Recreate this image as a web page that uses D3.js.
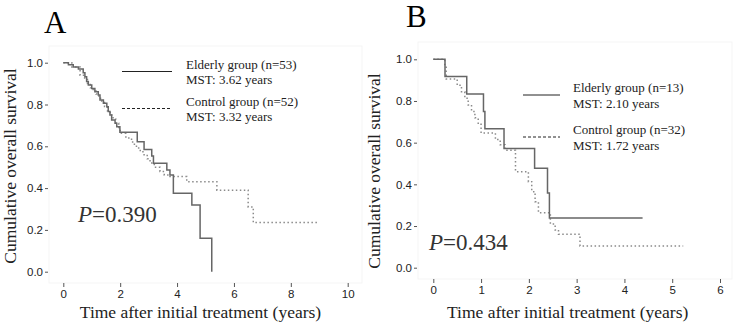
<html>
<head>
    <meta charset="UTF-8">
    <title>Kaplan-Meier overall survival</title>
    <script src="https://cdn.jsdelivr.net/npm/d3@7/dist/d3.min.js"></script>
    <style>
        body { margin: 0; background: #fff; }
        .serif { font-family: "Liberation Serif", "Times New Roman", serif; }
        .tick text { font-family: "Liberation Sans", Arial, sans-serif; font-size: 11.5px; fill: #222; }
        .tick line { stroke: #555; }
    </style>
</head>
<body>
    <svg id="mySvg" width="735" height="326"></svg>
    <script>
        // panel A data
        var aElderlyT = [0, 0.18, 0.35, 0.53, 0.70, 0.76, 0.82, 0.88, 1.00, 1.11, 1.23, 1.29, 1.41, 1.53, 1.58, 1.64, 1.70, 1.82, 1.88, 1.99, 2.60, 2.84, 3.11, 3.17, 3.64, 3.75, 3.87, 4.52, 4.81, 5.22];
        var aElderlyS = [1.0, 0.99, 0.98, 0.97, 0.952, 0.933, 0.91, 0.893, 0.877, 0.861, 0.845, 0.821, 0.806, 0.789, 0.766, 0.75, 0.726, 0.71, 0.694, 0.667, 0.622, 0.585, 0.553, 0.519, 0.487, 0.463, 0.375, 0.319, 0.16, 0.0];
        var aControlT = [0, 0.30, 0.59, 0.75, 0.85, 0.95, 1.05, 1.15, 1.25, 1.35, 1.45, 1.55, 1.65, 1.75, 1.85, 1.95, 2.0, 2.2, 2.4, 2.5, 2.65, 2.8, 2.95, 3.05, 3.2, 3.4, 3.55, 3.75, 4.34, 5.40, 6.50, 6.68, 9.0];
        var aControlS = [1.0, 0.98, 0.94, 0.92, 0.90, 0.88, 0.865, 0.85, 0.83, 0.81, 0.79, 0.77, 0.75, 0.73, 0.71, 0.69, 0.662, 0.64, 0.62, 0.60, 0.58, 0.56, 0.54, 0.52, 0.50, 0.48, 0.463, 0.455, 0.43, 0.39, 0.31, 0.235, 0.235];

        // panel B data
        var bElderlyT = [0, 0.245, 0.70, 1.05, 1.08, 1.48, 2.12, 2.39, 2.43, 4.38];
        var bElderlyS = [1.0, 0.917, 0.833, 0.75, 0.667, 0.572, 0.477, 0.358, 0.239, 0.239];
        var bControlT = [0, 0.24, 0.27, 0.50, 0.59, 0.66, 0.73, 0.80, 0.87, 0.94, 1.00, 1.30, 1.40, 1.50, 1.72, 1.99, 2.06, 2.13, 2.20, 2.45, 2.55, 2.62, 3.07, 5.23];
        var bControlS = [1.0, 0.969, 0.906, 0.875, 0.844, 0.813, 0.781, 0.75, 0.719, 0.688, 0.646, 0.615, 0.59, 0.563, 0.461, 0.413, 0.365, 0.317, 0.264, 0.21, 0.181, 0.16, 0.104, 0.104];

        var yTicks = [0, 0.2, 0.4, 0.6, 0.8, 1.0];
        var aXTicks = [0, 2, 4, 6, 8, 10];
        var bXTicks = [0, 1, 2, 3, 4, 5, 6];
        var aLegend = ["Elderly group (n=53)", "MST: 3.62 years", "Control group (n=52)", "MST: 3.32 years"];
        var bLegend = ["Elderly group (n=13)", "MST: 2.10 years", "Control group (n=32)", "MST: 1.72 years"];

        var svg = d3.select("#mySvg");

        function toPoints(t, s) {
            return t.map(function (d, i) { return [d, s[i]]; });
        }

        function drawPanel(p) {
            var x = d3.scaleLinear().domain([0, p.xMax]).range([p.x0, p.x1]);
            var y = d3.scaleLinear().domain([0, 1]).range([p.y0, p.y1]);
            var g = svg.append("g");

            // faint frame of the plot area
            g.append("rect")
                .attr("x", p.fx).attr("y", p.fy)
                .attr("width", p.fw).attr("height", p.fh)
                .attr("fill", "none").attr("stroke", "#f5f5f5");

            var yAxis = g.append("g")
                .attr("transform", `translate(${p.ax}, 0)`)
                .call(d3.axisLeft(y).tickValues(yTicks).tickFormat(d3.format(".1f")).tickSize(3).tickPadding(2));
            yAxis.select(".domain").remove();

            var xAxis = g.append("g")
                .attr("transform", `translate(0, ${p.ay})`)
                .call(d3.axisBottom(x).tickValues(p.xTicks).tickFormat(d3.format("d")).tickSize(4).tickPadding(3));
            xAxis.select(".domain").remove();

            var line = d3.line()
                .x(function (d) { return x(d[0]); })
                .y(function (d) { return y(d[1]); })
                .curve(d3.curveStepAfter);

            g.append("path")
                .attr("d", line(toPoints(p.ctlT, p.ctlS)))
                .attr("fill", "none")
                .attr("stroke", "#8a8a8a")
                .attr("stroke-width", 1.5)
                .attr("stroke-dasharray", "1.5,2.5");
            g.append("path")
                .attr("d", line(toPoints(p.eldT, p.eldS)))
                .attr("fill", "none")
                .attr("stroke", "#666")
                .attr("stroke-width", 1.5);

            // legend
            g.append("line")
                .attr("x1", p.lx).attr("x2", p.lx + p.lw)
                .attr("y1", p.ly).attr("y2", p.ly)
                .attr("stroke", "#222").attr("stroke-width", 1);
            g.append("line")
                .attr("x1", p.lx).attr("x2", p.lx + p.lw)
                .attr("y1", p.ly + p.lgap).attr("y2", p.ly + p.lgap)
                .attr("stroke", "#222").attr("stroke-width", 1)
                .attr("stroke-dasharray", "3,2");
            p.legend.forEach(function (txt, i) {
                var base = p.ly - 3 + (i >= 2 ? p.lgap : 0) + (i % 2) * 15.5;
                g.append("text")
                    .attr("class", "serif")
                    .attr("x", p.tx).attr("y", base)
                    .attr("font-size", 13)
                    .attr("fill", "#222")
                    .text(txt);
            });

            // panel letter
            g.append("text")
                .attr("class", "serif")
                .attr("x", p.letterX).attr("y", p.letterY)
                .attr("font-size", 31)
                .text(p.letter);

            // axis titles
            g.append("text")
                .attr("class", "serif")
                .attr("x", (p.x0 + p.x1) / 2 + p.titleDx).attr("y", 318)
                .attr("text-anchor", "middle")
                .attr("font-size", 17.5)
                .attr("fill", "#222")
                .text("Time after initial treatment (years)");
            g.append("text")
                .attr("class", "serif")
                .attr("transform", `translate(${p.yTitleX}, ${p.yTitleY}) rotate(-90)`)
                .attr("text-anchor", "middle")
                .attr("font-size", 17.5)
                .attr("fill", "#222")
                .text("Cumulative overall survival");

            // p value
            var pt = g.append("text")
                .attr("class", "serif")
                .attr("x", p.px).attr("y", p.py)
                .attr("font-size", 23)
                .attr("fill", "#333");
            pt.append("tspan").attr("font-style", "italic").text("P");
            pt.append("tspan").text(p.pval);
        }

        drawPanel({
            xMax: 10, x0: 63.3, x1: 347.7, y0: 271.7, y1: 62.7,
            ax: 48, ay: 283, xTicks: aXTicks,
            fx: 49, fy: 46, fw: 313, fh: 237,
            eldT: aElderlyT, eldS: aElderlyS, ctlT: aControlT, ctlS: aControlS,
            legend: aLegend, lx: 122, lw: 50, ly: 71.5, lgap: 37, tx: 186,
            letter: "A", letterX: 44, letterY: 33,
            titleDx: -5, yTitleX: 16, yTitleY: 166,
            px: 78, py: 222, pval: "=0.390"
        });

        drawPanel({
            xMax: 6, x0: 433.3, x1: 720, y0: 267.7, y1: 59.3,
            ax: 417, ay: 279, xTicks: bXTicks,
            fx: 418, fy: 42, fw: 314, fh: 237,
            eldT: bElderlyT, eldS: bElderlyS, ctlT: bControlT, ctlS: bControlS,
            legend: bLegend, lx: 523, lw: 37, ly: 95, lgap: 42, tx: 573,
            letter: "B", letterX: 406, letterY: 27,
            titleDx: -9, yTitleX: 380, yTitleY: 171,
            px: 429, py: 250, pval: "=0.434"
        });
    </script>
</body>
</html>
